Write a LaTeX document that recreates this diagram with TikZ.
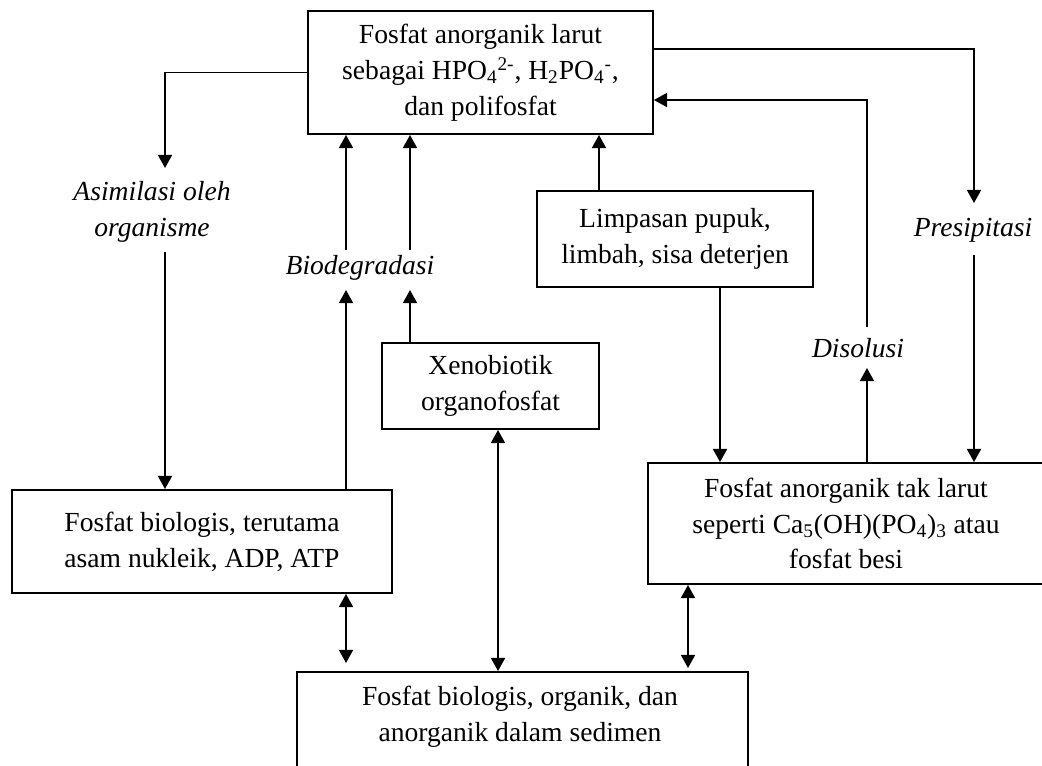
\documentclass[tikz,border=0pt]{standalone}
\usepackage{fontspec}
\setmainfont{Liberation Serif}
\usetikzlibrary{arrows.meta}
\begin{document}
\begin{tikzpicture}
  [x=0.02cm,y=-0.02cm,line width=1.1pt,>={Triangle[width=8pt,length=7.5pt]},
   every node/.style={font=\fontsize{15.7}{20.4}\selectfont,align=center,inner sep=0pt},
   box/.style={draw,line width=1.1pt},
   lbl/.style={font=\fontsize{15.7}{20.4}\selectfont\itshape}]
  \clip (0,0) rectangle (1042,765);

  \node[box,minimum width=6.9cm,minimum height=2.46cm] (larut) at (480.5,72.5)
    {Fosfat anorganik larut\\sebagai HPO\textsubscript{4}\textsuperscript{2-}, H\textsubscript{2}PO\textsubscript{4}\textsuperscript{-},\\dan polifosfat};
  \node[box,minimum width=7.6cm,minimum height=2.06cm] (bio) at (202,541.5)
    {Fosfat biologis, terutama\\asam nukleik, ADP, ATP};
  \node[box,minimum width=4.34cm,minimum height=1.72cm] (xeno) at (490.5,386)
    {Xenobiotik\\organofosfat};
  \node[box,minimum width=5.52cm,minimum height=1.92cm] (limp) at (675,239)
    {Limpasan pupuk,\\limbah, sisa deterjen};
  \node[box,minimum width=7.92cm,minimum height=2.42cm] (takl) at (846,523.5)
    {Fosfat anorganik tak larut\\seperti Ca\textsubscript{5}(OH)(PO\textsubscript{4})\textsubscript{3} atau\\fosfat besi};
  \node[box,minimum width=9.02cm,minimum height=2.4cm] (sed) at (522.5,732) {};
  \node (sedtxt) at (520,717) {Fosfat biologis, organik, dan\\anorganik dalam sedimen};

  \node[lbl] (asim) at (152,212) {Asimilasi oleh\\organisme};
  \node[lbl] (biodeg) at (360,268) {Biodegradasi};
  \node[lbl] (presip) at (973,230) {Presipitasi};
  \node[lbl] (disol) at (858,348) {Disolusi};

  \coordinate (asimIn) at (165,168);
  \coordinate (asimOut) at (165,252);
  \coordinate (bdA) at (346,290);
  \coordinate (bdB) at (410,290);
  \coordinate (bdC) at (346,250);
  \coordinate (bdD) at (410,250);
  \coordinate (lmUp) at (599,0);
  \coordinate (lmDown) at (720,0);
  \coordinate (dsIn) at (867,368);
  \coordinate (dsOut) at (867,327);
  \coordinate (dsTurn) at (867,100);
  \coordinate (prTurn) at (974,49);
  \coordinate (prIn) at (974,203);
  \coordinate (prOut) at (974,255);
  \coordinate (dbA) at (346,663);
  \coordinate (dbB) at (498,0);
  \coordinate (dbC) at (688,668);

  \draw[->] (larut.west) -| (asimIn);
  \draw[->] (asimOut) -- (asimOut |- bio.north);
  \draw[->] (bdA |- bio.north) -- (bdA);
  \draw[->] (bdB |- xeno.north) -- (bdB);
  \foreach \from in {bdC,bdD}
    \draw[->] (\from) -- (\from |- larut.south);
  \draw[->] (lmUp |- limp.north) -- (lmUp |- larut.south);
  \draw[->] (lmDown |- limp.south) -- (lmDown |- takl.north);
  \draw[->] (dsIn |- takl.north) -- (dsIn);
  \draw[->] (dsOut) -- (dsTurn) -- (dsTurn -| larut.east);
  \draw[->] (prTurn -| larut.east) -- (prTurn) -- (prIn);
  \draw[->] (prOut) -- (prOut |- takl.north);
  \draw[<->] (dbA |- bio.south) -- (dbA);
  \draw[<->] (dbB |- xeno.south) -- (dbB |- sed.north);
  \draw[<->] (dbC |- takl.south) -- (dbC);
\end{tikzpicture}
\end{document}
